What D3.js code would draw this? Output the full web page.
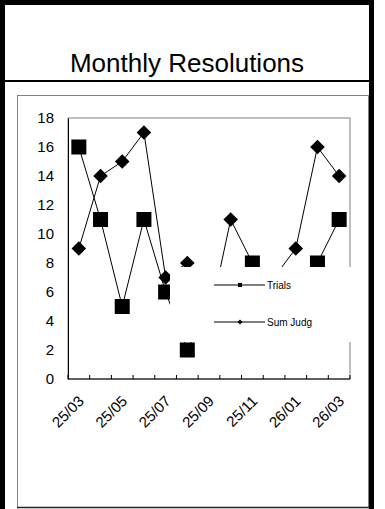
<!DOCTYPE html>
<html>
<head>
<meta charset="utf-8">
<script src="https://cdn.jsdelivr.net/npm/d3@7"></script>
<style>
  html, body { margin: 0; padding: 0; background: #fff; }
  svg { display: block; }
  text { font-family: "Liberation Sans", Arial, sans-serif; fill: #000; }
</style>
</head>
<body>
<svg id="chart" width="385" height="509"></svg>
<script>
// Monthly resolution counts
const months = ["25/03","25/04","25/05","25/06","25/07","25/08","25/09","25/10","25/11","25/12","26/01","26/02","26/03"];
const trials = [16, 11, 5, 11, 6, 2, 5, 7, 8, 5, 6, 8, 11];
const sumJudg = [9, 14, 15, 17, 7, 8, 4, 11, 8, 7, 9, 16, 14];
const yTicks = [0, 2, 4, 6, 8, 10, 12, 14, 16, 18];
const xTickLabels = ["25/03","25/05","25/07","25/09","25/11","26/01","26/03"];
const seriesNames = ["Trials", "Sum Judg"];

const svg = d3.select("#chart");

// Page frame and title bar
svg.append("rect").attr("x", 17.5).attr("y", 95.5).attr("width", 351).attr("height", 412)
  .attr("fill", "#fff").attr("stroke", "#808080").attr("stroke-width", 1);
svg.append("line").attr("x1", 17).attr("x2", 369).attr("y1", 507.5).attr("y2", 507.5)
  .attr("stroke", "#222").attr("stroke-width", 1.5);
svg.append("path").attr("d", "M2.5,520 L2.5,2.5 L371.5,2.5 L371.5,520")
  .attr("fill", "none").attr("stroke", "#000").attr("stroke-width", 5);
svg.append("line").attr("x1", 4).attr("x2", 369).attr("y1", 81).attr("y2", 81)
  .attr("stroke", "#000").attr("stroke-width", 2);
svg.append("text").attr("x", 187).attr("y", 72).attr("text-anchor", "middle")
  .style("font-size", "26px").text("Monthly Resolutions");

// Scales
const x = d3.scaleBand().domain(months).range([68, 350]).padding(0);
const y = d3.scaleLinear().domain([0, 18]).range([379, 118]);
const cx = m => x(m) + x.bandwidth() / 2;

// Plot frame
svg.append("rect").attr("x", 68).attr("y", y(18)).attr("width", 350 - 68).attr("height", y(0) - y(18))
  .attr("fill", "none").attr("stroke", "#808080").attr("stroke-width", 1);

// Y axis
const yAxis = svg.append("g").attr("transform", "translate(68,0)")
  .call(d3.axisLeft(y).tickValues(yTicks).tickSize(0).tickPadding(14));
yAxis.select(".domain").attr("stroke", "#000");
yAxis.selectAll("text").style("font-size", "15px").style("font-family", "Liberation Sans, Arial, sans-serif").attr("fill", "#000");

// X axis baseline with inward ticks at month boundaries
const boundaries = months.map(m => x(m)).concat([x.range()[1]]);
svg.append("line").attr("x1", 68).attr("x2", 350).attr("y1", y(0)).attr("y2", y(0))
  .attr("stroke", "#000").attr("stroke-width", 1);
svg.append("g").selectAll("line").data(boundaries).join("line")
  .attr("x1", d => d).attr("x2", d => d)
  .attr("y1", y(0)).attr("y2", y(0) - 4)
  .attr("stroke", "#000").attr("stroke-width", 1);

// Rotated month labels
svg.append("g").selectAll("text").data(xTickLabels).join("text")
  .attr("transform", d => `translate(${cx(d) + 6},${y(0) + 23}) rotate(-45)`)
  .attr("text-anchor", "end")
  .style("font-size", "15px")
  .text(d => d);

// Series lines
const line = d3.line().x((d, i) => cx(months[i])).y(d => y(d));
svg.append("path").datum(sumJudg).attr("d", line)
  .attr("fill", "none").attr("stroke", "#000").attr("stroke-width", 1);
svg.append("path").datum(trials).attr("d", line)
  .attr("fill", "none").attr("stroke", "#000").attr("stroke-width", 1);

// Markers: diamonds for Sum Judg, squares for Trials
const diamond = r => `M0,${-r}L${r},0L0,${r}L${-r},0Z`;
svg.append("g").selectAll("path").data(sumJudg).join("path")
  .attr("transform", (d, i) => `translate(${cx(months[i])},${y(d)})`)
  .attr("d", diamond(7.3)).attr("fill", "#000");
svg.append("g").selectAll("rect").data(trials).join("rect")
  .attr("x", (d, i) => cx(months[i]) - 7.5).attr("y", d => y(d) - 7.5)
  .attr("width", 15).attr("height", 15).attr("fill", "#000");

// Legend
const lg = svg.append("g");
lg.append("rect").attr("x", 170).attr("y", 267).attr("width", 188).attr("height", 75).attr("fill", "#fff");
const legendY = [285, 322];
seriesNames.forEach((name, i) => {
  const ly = legendY[i];
  lg.append("line").attr("x1", 214).attr("x2", 265).attr("y1", ly).attr("y2", ly)
    .attr("stroke", "#000").attr("stroke-width", 1);
  if (i === 0) {
    lg.append("rect").attr("x", 238).attr("y", ly - 2).attr("width", 4).attr("height", 4).attr("fill", "#000");
  } else {
    lg.append("path").attr("transform", `translate(240,${ly})`).attr("d", diamond(2.5)).attr("fill", "#000");
  }
  lg.append("text").attr("x", 267).attr("y", ly + 3.5).style("font-size", "10px").text(name);
});
</script>
</body>
</html>
